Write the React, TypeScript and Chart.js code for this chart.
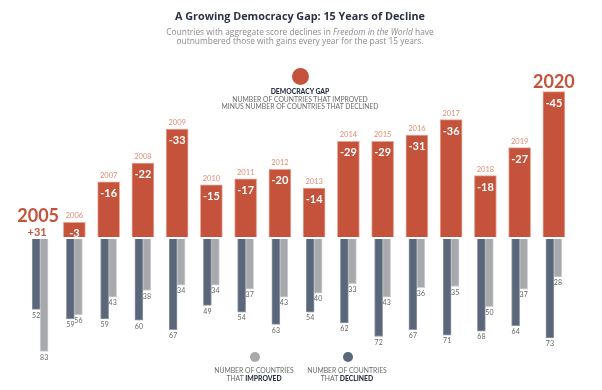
import React, { useEffect, useRef } from "react";
import { Chart, registerables } from "chart.js";

Chart.register(...registerables);

const years = ["2005", "2006", "2007", "2008", "2009", "2010", "2011", "2012", "2013", "2014", "2015", "2016", "2017", "2018", "2019", "2020"];
const democracyGap = [31, -3, -16, -22, -33, -15, -17, -20, -14, -29, -29, -31, -36, -18, -27, -45];
const declined = [52, 59, 59, 60, 67, 49, 54, 63, 54, 62, 72, 67, 71, 68, 64, 73];
const improved = [83, 56, 43, 38, 34, 34, 37, 43, 40, 33, 43, 36, 35, 50, 37, 28];

const ORANGE = "#c5533b";
const ORANGE_LIGHT = "#e08d77";
const DARK = "#5a6679";
const GRAY = "#a8a9ac";
const TITLE = "#2b3245";
const GAP_BASE = 1.74;

const labelPlugin = {
  id: "labels",
  afterDatasetsDraw(chart: any) {
    const ctx = chart.ctx;
    const x = chart.scales.x;
    const yg = chart.scales.yg;
    const gMeta = chart.getDatasetMeta(0);
    const basePx = yg.getPixelForValue(GAP_BASE);
    ctx.save();
    ctx.textAlign = "center";
    years.forEach((yr, i) => {
      const v = democracyGap[i];
      const cx = x.getPixelForValue(i);
      const big = i === 0 || i === years.length - 1;
      if (v < 0) {
        const top = gMeta.data[i].y;
        if (big) {
          ctx.font = "bold 18px Lato";
          ctx.fillStyle = ORANGE;
          ctx.textBaseline = "alphabetic";
          ctx.fillText(yr, cx, top - 3.5);
        } else {
          ctx.font = "7.5px Lato";
          ctx.fillStyle = ORANGE_LIGHT;
          ctx.textBaseline = "middle";
          ctx.fillText(yr, cx, top - 6.5);
        }
        ctx.font = "bold 11px Lato";
        ctx.fillStyle = "#ffffff";
        ctx.textBaseline = "middle";
        ctx.fillText(String(v), cx, top + 11.5);
      } else {
        ctx.fillStyle = ORANGE;
        ctx.textBaseline = "alphabetic";
        ctx.font = "bold 11px Lato";
        ctx.fillText("+" + v, cx - 3, basePx - 1);
        ctx.font = "bold 18px Lato";
        ctx.fillText(yr, cx - 2, basePx - 15);
      }
    });
    [1, 2].forEach((di) => {
      const meta = chart.getDatasetMeta(di);
      const vals = di === 1 ? declined : improved;
      meta.data.forEach((el: any, i: number) => {
        ctx.font = "7px Lato";
        ctx.fillStyle = "#666666";
        ctx.textBaseline = "middle";
        ctx.fillText(String(vals[i]), el.x, el.y + 6);
      });
    });
    ctx.restore();
  },
};

export default function App() {
  const ref = useRef<HTMLCanvasElement>(null);
  useEffect(() => {
    if (!ref.current) return;
    const chart = new Chart(ref.current, {
      type: "bar",
      data: {
        labels: years,
        datasets: [
          {
            label: "Democracy gap",
            data: democracyGap.map((v) => (v < 0 ? v : null)),
            yAxisID: "yg",
            grouped: false,
            base: GAP_BASE,
            barThickness: 22,
            backgroundColor: ORANGE,
            borderColor: "#e6a493",
            borderWidth: 1,
          } as any,
          {
            label: "Declined",
            data: declined,
            yAxisID: "yc",
            barThickness: 8,
            categoryPercentage: 0.53,
            backgroundColor: DARK,
            borderColor: "#8e97a6",
            borderWidth: 1,
          },
          {
            label: "Improved",
            data: improved,
            yAxisID: "yc",
            barThickness: 8,
            categoryPercentage: 0.53,
            backgroundColor: GRAY,
            borderColor: "#d0d1d3",
            borderWidth: 1,
          },
        ],
      },
      options: {
        responsive: false,
        animation: false,
        layout: { padding: { left: 23, right: 31, top: 50, bottom: 20 } },
        plugins: { legend: { display: false }, tooltip: { enabled: false }, title: { display: false } },
        scales: {
          x: { display: false, offset: true, grid: { display: false } },
          yg: { type: "linear", display: false, reverse: true, min: -58.39, max: 44.5 },
          yc: { type: "linear", display: false, reverse: true, min: -139.5, max: 96.7 },
        },
      },
      plugins: [labelPlugin],
    });
    return () => chart.destroy();
  }, []);

  const abs = (o: React.CSSProperties): React.CSSProperties => ({ position: "absolute", ...o });
  const legendText: React.CSSProperties = {
    fontFamily: "Lato",
    fontSize: "6.8px",
    color: "#6a6a6a",
    textAlign: "center",
    whiteSpace: "nowrap",
  };

  return (
    <div style={abs({ left: 0, top: 0, width: 602, height: 390, background: "#ffffff", overflow: "hidden" })}>
      <canvas ref={ref} width={602} height={390} style={{ position: "absolute", left: 0, top: 0, display: "block" }} />
      <div
        style={abs({
          left: 0,
          top: 9.1,
          width: 600,
          textAlign: "center",
          fontFamily: "Open Sans",
          fontWeight: 700,
          fontSize: "10.8px",
          lineHeight: "13px",
          color: TITLE,
        })}
      >
        A Growing Democracy Gap: 15 Years of Decline
      </div>
      <div
        style={abs({
          left: 0,
          top: 28.4,
          width: 600,
          textAlign: "center",
          fontFamily: "Open Sans",
          fontSize: "8.4px",
          lineHeight: "8.7px",
          color: "#8b8b8b",
        })}
      >
        Countries with aggregate score declines in <i>Freedom in the World</i> have
        <br />
        outnumbered those with gains every year for the past 15 years.
      </div>
      <div style={abs({ left: 300 - 8.5, top: 76.7 - 8.5, width: 17, height: 17, borderRadius: "50%", background: ORANGE })} />
      <div style={abs({ ...legendText, left: 200, width: 200, top: 88.1, lineHeight: "7.4px" })}>
        <b style={{ color: TITLE, fontWeight: 900 }}>DEMOCRACY GAP</b>
        <br />
        NUMBER OF COUNTRIES THAT IMPROVED
        <br />
        MINUS NUMBER OF COUNTRIES THAT DECLINED
      </div>
      <div style={abs({ left: 255 - 5, top: 357.3 - 5, width: 10, height: 10, borderRadius: "50%", background: GRAY })} />
      <div style={abs({ left: 347.7 - 5, top: 357.3 - 5, width: 10, height: 10, borderRadius: "50%", background: DARK })} />
      <div style={abs({ ...legendText, left: 254 - 60, width: 120, top: 365.8, lineHeight: "8.3px" })}>
        NUMBER OF COUNTRIES
        <br />
        THAT <b style={{ color: TITLE, fontWeight: 900 }}>IMPROVED</b>
      </div>
      <div style={abs({ ...legendText, left: 347 - 60, width: 120, top: 365.8, lineHeight: "8.3px" })}>
        NUMBER OF COUNTRIES
        <br />
        THAT <b style={{ color: TITLE, fontWeight: 900 }}>DECLINED</b>
      </div>
    </div>
  );
}
